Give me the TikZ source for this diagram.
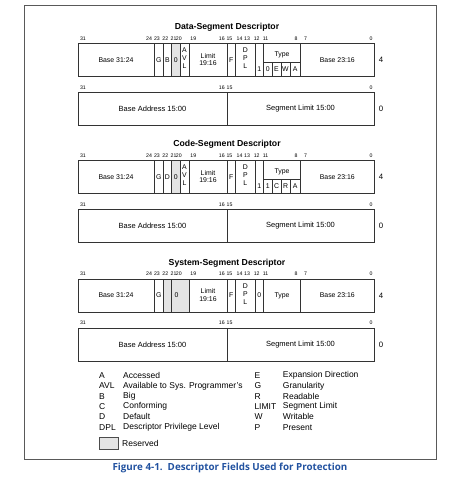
\documentclass[tikz,border=0pt]{standalone}
\usepackage{fontspec}
\setmainfont{Liberation Sans}
\newfontfamily\capfont{Open Sans}
\usetikzlibrary{positioning}
\definecolor{capblue}{RGB}{34,82,160}
\definecolor{resgray}{RGB}{228,228,228}

% common part of one descriptor: title, both rows, bit numbers
\newcommand{\descrows}[1]{%
  \node[title] at (227,-16) {#1};
  % top row
  \draw[boxline] (78,0) rectangle (374,33);
  \foreach \xx in {154.5,163,227,235.5,255,263.5,300.5}
    \draw[boxline] (\xx,0) -- (\xx,33);
  \node[field] at (116,16.5) {Base 31:24};
  \node[field] at (158.8,16.5) {G};
  \node[field, align=center] at (208,16) {Limit\\19:16};
  \node[field] at (231.3,16.5) {F};
  \foreach \yy/\ll in {7/D,15/P,23/L}
    \node[field] at (245.3,\yy) {\ll};
  \node[field] at (337.3,16.5) {Base 23:16};
  \node[side] at (381,16.5) {4};
  % bit numbers of the top row
  \foreach \xx/\bb in {83/31,149/24,157/23,165.3/22,173.5/21,178.8/20,193.3/19,
      221.8/16,229.4/15,239.5/14,247/13,256.7/12,265.5/11,296/8,305.5/7,371/0}
    \node[bitnum] at (\xx,-3.5) {\bb};
  % bottom row
  \draw[boxline] (78,49) rectangle (374,82);
  \draw[boxline] (227,49) -- (227,82);
  \node[field2] at (152.5,65.5) {Base Address 15:00};
  \node[field2] at (300.5,65.5) {Segment Limit 15:00};
  \node[side] at (381,65.5) {0};
  \foreach \xx/\bb in {83/31,221.8/16,229.5/15,371/0}
    \node[bitnum] at (\xx,45.5) {\bb};
}

\begin{document}
\begin{tikzpicture}[x=1pt,y=-1pt,
    boxline/.style={draw=black!80, line width=0.8pt},
    field/.style={font=\fontsize{6.9}{7.8}\selectfont, inner sep=0pt},
    field2/.style={font=\fontsize{7.5}{8.5}\selectfont, inner sep=0pt},
    side/.style={font=\fontsize{7.8}{8.5}\selectfont, inner sep=0pt},
    bitnum/.style={font=\fontsize{5.2}{6}\selectfont, inner sep=0pt, anchor=base},
    title/.style={font=\bfseries\fontsize{8.7}{10}\selectfont, inner sep=0pt},
    key/.style={font=\fontsize{8.5}{10}\selectfont, inner sep=0pt, anchor=west}]
  \useasboundingbox (0,0) rectangle (464,480);
  % outer frame
  \draw[draw=black!65, line width=0.9pt] (24.5,5) rectangle (436.5,459.3);

  % Data-Segment Descriptor
  \begin{scope}[shift={(0,43.5)}]
    \fill[resgray] (171.5,0) rectangle (180,33);
    \descrows{Data-Segment Descriptor}
    \foreach \xx in {171.5,180,189}
      \draw[boxline] (\xx,0) -- (\xx,33);
    \node[field] at (167.3,16.5) {B};
    \node[field] at (175.8,16.5) {0};
    \foreach \yy/\ll in {7/A,15/V,23/L}
      \node[field] at (184.5,\yy) {\ll};
    \node[field] at (259.2,26) {1};
    \node[field] at (282,11) {Type};
    \draw[boxline] (263.5,19) -- (300.5,19);
    \foreach \xx in {272,281,290}
      \draw[boxline] (\xx,19) -- (\xx,33);
    \foreach \xx/\ll in {267.8/0,276.5/E,285.5/W,295.2/A}
      \node[field] at (\xx,26) {\ll};
  \end{scope}

  % Code-Segment Descriptor
  \begin{scope}[shift={(0,160.5)}]
    \fill[resgray] (171.5,0) rectangle (180,33);
    \descrows{Code-Segment Descriptor}
    \foreach \xx in {171.5,180,189}
      \draw[boxline] (\xx,0) -- (\xx,33);
    \node[field] at (167.3,16.5) {D};
    \node[field] at (175.8,16.5) {0};
    \foreach \yy/\ll in {7/A,15/V,23/L}
      \node[field] at (184.5,\yy) {\ll};
    \node[field] at (259.2,26) {1};
    \node[field] at (282,11) {Type};
    \draw[boxline] (263.5,19) -- (300.5,19);
    \foreach \xx in {272,281,290}
      \draw[boxline] (\xx,19) -- (\xx,33);
    \foreach \xx/\ll in {267.8/1,276.5/C,285.5/R,295.2/A}
      \node[field] at (\xx,26) {\ll};
  \end{scope}

  % System-Segment Descriptor
  \begin{scope}[shift={(0,279)}]
    \fill[resgray] (163,0) rectangle (189,33);
    \descrows{System-Segment Descriptor}
    \foreach \xx in {171.5,189}
      \draw[boxline] (\xx,0) -- (\xx,33);
    \node[field] at (176.5,16.5) {0};
    \node[field] at (259.2,16.5) {0};
    \node[field] at (282,16.5) {Type};
  \end{scope}

  % legend
  \foreach \yy/\kk/\tt in {375.7/A/Accessed, 386/AVL/Available to Sys. Programmer's,
      396.3/B/Big, 406.6/C/Conforming, 416.9/D/Default, 427.2/DPL/Descriptor Privilege Level}
  {
    \node[key] at (99,\yy) {\kk};
    \node[key] at (123,\yy) {\tt};
  }
  \foreach \yy/\kk/\tt in {375.7/E/Expansion Direction, 386/G/Granularity,
      396.3/R/Readable, 406.6/LIMIT/Segment Limit, 416.9/W/Writable, 427.2/P/Present}
  {
    \node[key] at (254.3,\yy) {\kk};
    \node[key] at (282.7,\yy) {\tt};
  }
  \draw[draw=black!70, fill=resgray, line width=0.75pt] (99.5,437.5) rectangle (118.5,449.5);
  \node[key] (reserved) at (122,443.5) {Reserved};

  % caption
  \node[font=\capfont\bfseries\fontsize{9.8}{11}\selectfont, text=capblue, inner sep=0pt]
    (caption) at (230,468.3) {Figure 4-1.\ \ Descriptor Fields Used for Protection};
\end{tikzpicture}
\end{document}
